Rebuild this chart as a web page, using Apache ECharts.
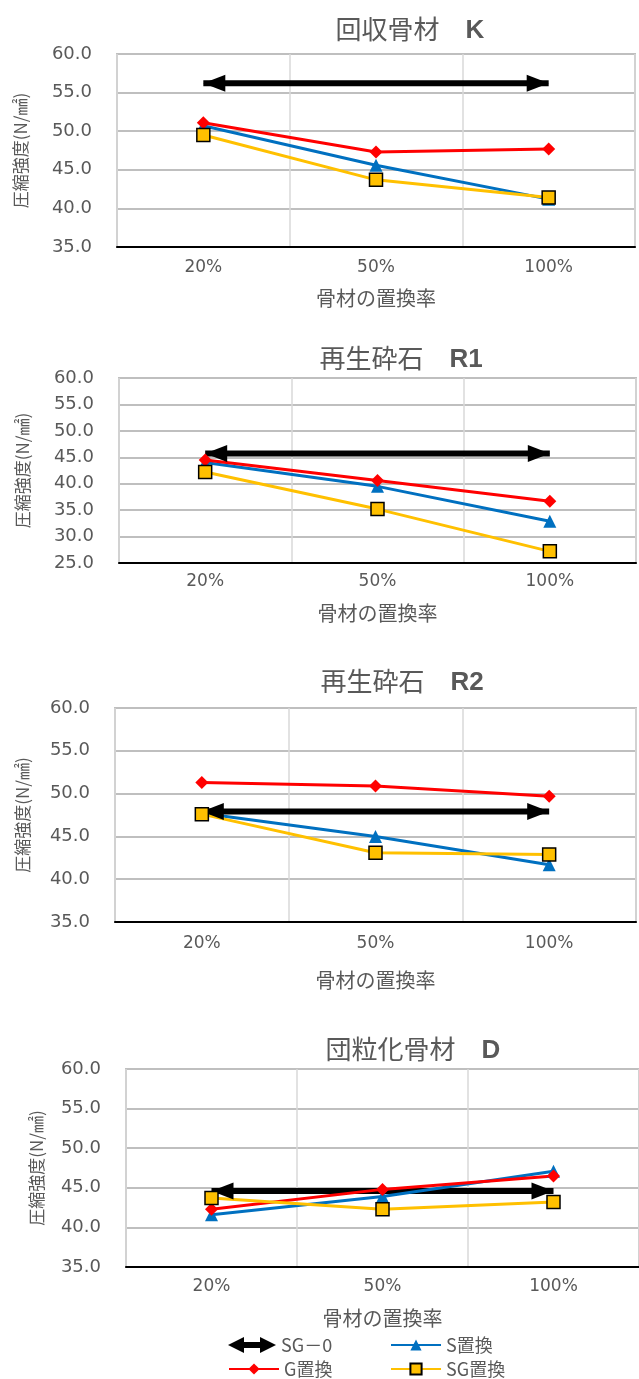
<!DOCTYPE html>
<html>
<head>
<meta charset="utf-8">
<script src="https://cdn.jsdelivr.net/npm/echarts@6/dist/echarts.min.js"></script>
<style>
  html, body { margin: 0; padding: 0; background: #fff; }
  #main { width: 639px; height: 1379px; }
</style>
</head>
<body>
<div id="main"></div>
<script>
  // データ
  const categories = ['20%', '50%', '100%'];
  const chartNames = ['回収骨材', '再生砕石', '再生砕石', '団粒化骨材'];
  const chartCodes = ['K', 'R1', 'R2', 'D'];
  const sgZero = [56.2, 45.7, 47.9, 44.6];
  const sValues = [
    [50.7, 45.6, 41.2],
    [44.0, 39.5, 32.9],
    [47.7, 45.0, 41.7],
    [41.6, 43.9, 47.1]
  ];
  const gValues = [
    [51.1, 47.3, 47.7],
    [44.5, 40.6, 36.7],
    [51.3, 50.9, 49.7],
    [42.3, 44.8, 46.5]
  ];
  const sgValues = [
    [49.5, 43.7, 41.4],
    [42.2, 35.2, 27.2],
    [47.6, 43.1, 42.9],
    [43.7, 42.3, 43.2]
  ];
  const yMin = [35, 25, 35, 35];
  const yMax = [60, 60, 60, 60];

  // 各グラフの配置
  const layout = [
    {left: 117, top: 54, height: 193, right: 4, titleX: 405, titleY: 8, yGap: 88, xGap: 41, labelMargin: 12},
    {left: 119, top: 378, height: 185, right: 3, titleX: 396, titleY: 337, yGap: 88, xGap: 40, labelMargin: 10},
    {left: 115, top: 708, height: 214, right: 3, titleX: 397, titleY: 660, yGap: 84, xGap: 48, labelMargin: 13},
    {left: 126, top: 1069, height: 198, right: -10, titleX: 408, titleY: 1028, yGap: 81, xGap: 41, labelMargin: 11}
  ];

  const textGray = '#595959';
  const jpFont = '"Noto Sans CJK JP", sans-serif';
  const numFont = '"DejaVu Sans", sans-serif';
  const arrowIcon = 'path://M0,8 L16,0 L16,5 L32,5 L32,0 L48,8 L32,16 L32,11 L16,11 L16,16 Z';

  let titles = [], grids = [], xAxes = [], yAxes = [], series = [];

  layout.forEach((p, i) => {
    titles.push({
      text: '{a|' + chartNames[i] + '　}{b|' + chartCodes[i] + '}',
      left: p.titleX,
      top: p.titleY,
      textAlign: 'center',
      textStyle: {
        fontWeight: 'normal',
        rich: {
          a: {fontSize: 26, lineHeight: 32, color: textGray, fontFamily: jpFont, fontWeight: 'normal'},
          b: {fontSize: 26, lineHeight: 32, color: textGray, fontFamily: '"Liberation Sans", Arial, sans-serif', fontWeight: 'bold', padding: [3, 0, 0, 0]}
        }
      }
    });
    grids.push({
      left: p.left, top: p.top, height: p.height, right: p.right,
      show: true, borderColor: '#bfbfbf', borderWidth: 2
    });
    xAxes.push({
      type: 'category',
      gridIndex: i,
      data: categories,
      name: '骨材の置換率',
      nameLocation: 'middle',
      nameGap: p.xGap,
      nameTextStyle: {fontSize: 20, color: textGray, fontFamily: jpFont},
      axisLine: {lineStyle: {color: '#000', width: 2}},
      axisTick: {show: false},
      axisLabel: {fontSize: 17, color: textGray, fontFamily: numFont, margin: p.labelMargin},
      splitLine: {show: true, lineStyle: {color: '#d9d9d9', width: 1.5}}
    });
    yAxes.push({
      type: 'value',
      gridIndex: i,
      min: yMin[i],
      max: yMax[i],
      interval: 5,
      name: '圧縮強度(N/㎟)',
      nameLocation: 'middle',
      nameRotate: 90,
      nameGap: p.yGap,
      nameTextStyle: {fontSize: 17, color: textGray, fontFamily: jpFont},
      axisLine: {show: false},
      axisTick: {show: false},
      axisLabel: {
        fontSize: 18, color: textGray, fontFamily: numFont, margin: 25,
        formatter: v => v.toFixed(1)
      },
      splitLine: {lineStyle: {color: '#bfbfbf', width: 2}}
    });

    // SG－0（両矢印）
    let v = sgZero[i];
    series.push({
      name: 'SG－0',
      type: 'line',
      xAxisIndex: i, yAxisIndex: i,
      showSymbol: true,
      symbol: 'none',
      lineStyle: {color: '#000', width: 6},
      itemStyle: {color: '#000'},
      data: [
        {value: v, symbol: 'triangle', symbolSize: [17, 22], symbolRotate: 90, symbolOffset: [11, 0]},
        {value: v, symbol: 'none'},
        {value: v, symbol: 'triangle', symbolSize: [17, 22], symbolRotate: -90, symbolOffset: [-11, 0]}
      ],
      silent: true
    });
    series.push({
      name: 'S置換',
      type: 'line',
      xAxisIndex: i, yAxisIndex: i,
      symbol: 'triangle',
      symbolSize: 13,
      lineStyle: {color: '#0070c0', width: 3},
      itemStyle: {color: '#0070c0'},
      data: sValues[i]
    });
    series.push({
      name: 'G置換',
      type: 'line',
      xAxisIndex: i, yAxisIndex: i,
      symbol: 'diamond',
      symbolSize: 13,
      lineStyle: {color: '#ff0000', width: 3},
      itemStyle: {color: '#ff0000'},
      data: gValues[i]
    });
    series.push({
      name: 'SG置換',
      type: 'line',
      xAxisIndex: i, yAxisIndex: i,
      symbol: 'rect',
      symbolSize: 13,
      lineStyle: {color: '#ffc000', width: 3},
      itemStyle: {color: '#ffc000', borderColor: '#000', borderWidth: 1.5},
      data: sgValues[i]
    });
  });

  const legendText = {fontSize: 18, color: textGray, fontFamily: jpFont};
  let legends = [
    {data: [{name: 'SG－0', icon: arrowIcon, itemStyle: {color: '#000'}}], left: 228, top: 1336, itemWidth: 48, itemHeight: 16},
    {data: ['S置換'], left: 390, top: 1336, itemWidth: 50, itemHeight: 14},
    {data: ['G置換'], left: 228, top: 1360, itemWidth: 50, itemHeight: 14},
    {data: ['SG置換'], left: 390, top: 1360, itemWidth: 50, itemHeight: 14}
  ].map(l => Object.assign(l, {textStyle: legendText, itemGap: 5, selectedMode: false, padding: 0}));

  let myChart = echarts.init(document.getElementById('main'));
  let option = {
    backgroundColor: '#fff',
    animation: false,
    title: titles,
    legend: legends,
    grid: grids,
    xAxis: xAxes,
    yAxis: yAxes,
    series: series
  };
  myChart.setOption(option);
</script>
</body>
</html>
